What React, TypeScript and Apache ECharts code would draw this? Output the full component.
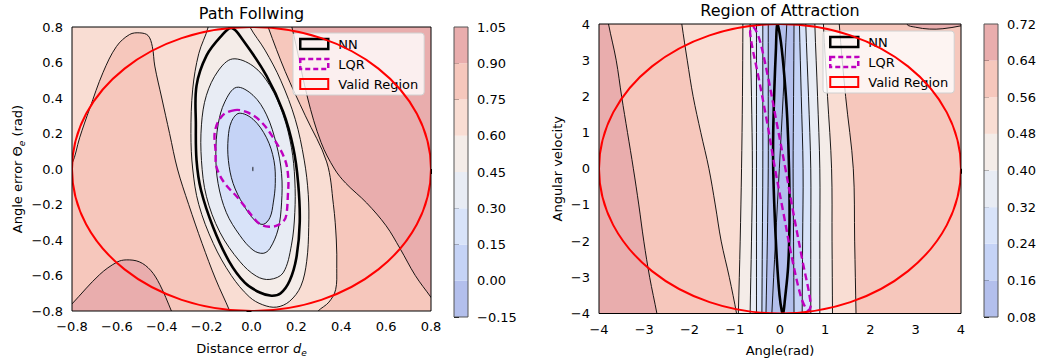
import React, { useEffect, useRef } from 'react';
import * as echarts from 'echarts';

type Pt = [number, number];

const FONT = 'DejaVu Sans';
const MINUS = '\u2212';

// filled-contour band colours (lowest band first), shared by both colourbars
const bandColors = ['#b3bfec', '#c5d3f6', '#d8e3f9', '#e8ecf4', '#f4ece8', '#f9ddd3', '#f6c7bc', '#e9adad'];

// ---------------- Path Following (left) ----------------
const pfTitle = 'Path Follwing';
const pfLevels = [-0.15, 0, 0.15, 0.3, 0.45, 0.6, 0.75, 0.9, 1.05];
const pfRange = [-0.8, 0.8];
const pfValid = [0, 0, 0.8, 0.8]; // cx, cy, rx, ry

const pfC1: Pt[] = [[-0.055, 0.314], [0.007, 0.28], [0.067, 0.176], [0.1, 0.048], [0.106, -0.081], [0.097, -0.191], [0.082, -0.274], [0.052, -0.312], [0.015, -0.29], [-0.037, -0.2], [-0.082, -0.081], [-0.103, 0.048], [-0.104, 0.176], [-0.089, 0.268]];
const pfC2: Pt[] = [[-0.067, 0.46], [0.007, 0.415], [0.067, 0.305], [0.111, 0.139], [0.134, -0.026], [0.134, -0.191], [0.119, -0.338], [0.082, -0.448], [0.052, -0.475], [0.007, -0.457], [-0.052, -0.374], [-0.112, -0.246], [-0.149, -0.081], [-0.159, 0.084], [-0.149, 0.249], [-0.119, 0.378]];
const pfC3: Pt[] = [[-0.085, 0.62], [0.007, 0.58], [0.082, 0.47], [0.141, 0.305], [0.178, 0.121], [0.193, -0.062], [0.193, -0.246], [0.178, -0.429], [0.141, -0.585], [0.082, -0.622], [0.022, -0.604], [-0.052, -0.521], [-0.141, -0.356], [-0.201, -0.154], [-0.223, 0.048], [-0.223, 0.249], [-0.201, 0.415], [-0.149, 0.552]];
const pfC5: Pt[] = [[-0.193, 0.86], [-0.193, 0.8], [-0.235, 0.65], [-0.262, 0.45], [-0.27, 0.2], [-0.262, 0.0], [-0.235, -0.2], [-0.17, -0.42], [-0.09, -0.6], [-0.01, -0.72], [0.05, -0.765], [0.112, -0.778], [0.17, -0.745], [0.22, -0.66], [0.246, -0.52], [0.255, -0.33], [0.253, -0.144], [0.235, 0.05], [0.195, 0.28], [0.13, 0.5], [0.06, 0.67], [-0.007, 0.8], [-0.02, 0.86]];
const pfC6L: Pt[] = [[-0.85, -0.05], [-0.8, 0.03], [-0.766, 0.176], [-0.721, 0.341], [-0.662, 0.543], [-0.602, 0.69], [-0.543, 0.758], [-0.498, 0.767], [-0.461, 0.752], [-0.442, 0.69], [-0.431, 0.58], [-0.4, 0.4], [-0.365, 0.2], [-0.33, 0.0], [-0.28, -0.2], [-0.22, -0.42], [-0.16, -0.62], [-0.097, -0.8], [-0.08, -0.86]];
const pfC6R: Pt[] = [[0.06, 0.86], [0.074, 0.8], [0.15, 0.55], [0.24, 0.3], [0.335, 0.04], [0.365, -0.2], [0.378, -0.4], [0.38, -0.56], [0.375, -0.68], [0.345, -0.75], [0.297, -0.8], [0.26, -0.86]];
const pfRoseTR: Pt[] = [[0.16, 0.86], [0.18, 0.8], [0.25, 0.4], [0.31, 0.15], [0.37, 0.0], [0.42, -0.08], [0.513, -0.191], [0.6, -0.32], [0.662, -0.448], [0.73, -0.6], [0.8, -0.723], [0.86, -0.83]];
const pfRoseBL: Pt[] = [[-0.86, -0.84], [-0.8, -0.76], [-0.677, -0.595], [-0.6, -0.525], [-0.558, -0.512], [-0.5, -0.523], [-0.45, -0.57], [-0.409, -0.65], [-0.357, -0.8], [-0.34, -0.86]];
const pfDot: Pt[] = [[0.006, 0.012], [0.006, -0.012]];
const pfNN: Pt[] = [[-0.089, 0.795], [-0.04, 0.73], [0.067, 0.525], [0.141, 0.323], [0.186, 0.121], [0.208, -0.081], [0.215, -0.3], [0.2, -0.5], [0.17, -0.63], [0.13, -0.7], [0.089, -0.714], [0.037, -0.696], [-0.03, -0.64], [-0.1, -0.52], [-0.171, -0.328], [-0.225, -0.12], [-0.245, 0.05], [-0.248, 0.25], [-0.245, 0.47], [-0.2, 0.64], [-0.134, 0.75]];
const pfLQR: Pt[] = [[-0.074, 0.332], [-0.13, 0.3], [-0.163, 0.213], [-0.16, 0.1], [-0.156, 0.011], [-0.12, -0.08], [-0.06, -0.163], [0.0, -0.26], [0.037, -0.31], [0.08, -0.325], [0.112, -0.319], [0.145, -0.29], [0.156, -0.254], [0.162, -0.15], [0.164, -0.053], [0.15, 0.05], [0.1, 0.17], [0.04, 0.27], [-0.02, 0.32]];

// ---------------- Region of Attraction (right) ----------------
const roaTitle = 'Region of Attraction';
const roaLevels = [0.08, 0.16, 0.24, 0.32, 0.4, 0.48, 0.56, 0.64, 0.72];
const roaRange = [-4, 4];
const roaValid = [0, 0, 4, 4];

const roaL1: Pt[] = [[-3.85, 4.5], [-3.79, 4], [-3.62, 3], [-3.5, 2], [-3.37, 1], [-3.24, 0], [-3.12, -1], [-3.01, -2], [-2.88, -3], [-2.72, -4], [-2.65, -4.5]];
const roaL2: Pt[] = [[-2.22, 4.5], [-2.17, 4], [-2.05, 3], [-1.92, 2], [-1.75, 1], [-1.57, 0], [-1.43, -1], [-1.3, -2], [-1.12, -3], [-0.96, -4], [-0.9, -4.5]];
const roaL3: Pt[] = [[-0.82, 4.5], [-0.82, 4], [-0.83, 2], [-0.85, 0], [-0.88, -2], [-0.92, -4], [-0.93, -4.5]];
const roaB4: Pt[] = [[-0.66, 4.5], [-0.66, 4], [-0.63, 2], [-0.61, 0], [-0.63, -2], [-0.66, -4], [-0.66, -4.5]];
const roaB5: Pt[] = [[-0.52, 4.5], [-0.52, 4], [-0.52, 2], [-0.52, 0], [-0.52, -2], [-0.52, -4], [-0.52, -4.5]];
const roaB6: Pt[] = [[-0.38, 4.5], [-0.38, 4], [-0.38, 2], [-0.38, 0], [-0.39, -2], [-0.4, -4], [-0.4, -4.5]];
const roaB7: Pt[] = [[-0.26, 4.5], [-0.26, 4], [-0.26, 2], [-0.26, 0], [-0.28, -2], [-0.31, -4], [-0.32, -4.5]];
const roaB8: Pt[] = [[0.31, 4.5], [0.31, 4], [0.3, 2], [0.29, 0], [0.3, -2], [0.31, -4], [0.31, -4.5]];
const roaB9: Pt[] = [[0.43, 4.5], [0.43, 4], [0.47, 2], [0.51, 0], [0.5, -2], [0.49, -4], [0.49, -4.5]];
const roaB10: Pt[] = [[0.57, 4.5], [0.57, 4], [0.63, 2], [0.68, 0], [0.68, -2], [0.68, -4], [0.68, -4.5]];
const roaB11: Pt[] = [[0.77, 4.5], [0.77, 4], [0.83, 2], [0.88, 0], [0.88, -2], [0.88, -4], [0.88, -4.5]];
const roaB12: Pt[] = [[0.96, 4.5], [0.96, 4], [1.05, 2], [1.14, 0], [1.15, -2], [1.16, -4], [1.16, -4.5]];
const roaB13: Pt[] = [[1.31, 4.5], [1.31, 4], [1.45, 2], [1.62, 0], [1.65, -2], [1.68, -4], [1.69, -4.5]];
const roaInner: Pt[] = [[0.17, 4.5], [0.15, 4], [0.07, 2], [-0.015, 0], [-0.1, -2], [-0.18, -4], [-0.2, -4.5]];
const roaArc: Pt[] = [[2.75, 4.5], [2.8, 4.0], [3.0, 3.91], [3.3, 3.86], [3.6, 3.87], [4.0, 3.95], [4.5, 4.1]];
// band index to the right of each boundary (left to right)
const roaBounds = [roaL1, roaL2, roaL3, roaB4, roaB5, roaB6, roaB7, roaB8, roaB9, roaB10, roaB11, roaB12, roaB13];
const roaRightBand = [6, 5, 4, 3, 2, 1, 0, 1, 2, 3, 4, 5, 6];
const roaNN: Pt[] = [[-0.06, 4.0], [-0.09, 3.3], [-0.125, 2.2], [-0.15, 1.0], [-0.15, 0.0], [-0.12, -1.2], [-0.07, -2.5], [-0.01, -3.5], [0.04, -3.93], [0.07, -4.0], [0.11, -3.6], [0.18, -2.7], [0.21, -1.5], [0.2, 0.0], [0.16, 1.4], [0.1, 2.5], [0.02, 3.5]];
const roaLQR: Pt[] = [[-0.6, 3.93], [-0.46, 3.6], [-0.26, 2.5], [-0.07, 1.25], [0.12, 0], [0.3, -1.25], [0.49, -2.5], [0.68, -3.75], [0.62, -3.92], [0.48, -3.6], [0.27, -2.5], [0.08, -1.25], [-0.11, 0], [-0.28, 1.25], [-0.47, 2.5], [-0.66, 3.75]];

type Fill = { pts: Pt[]; c: number; s?: number };
type Stroke = { pts: Pt[]; closed?: boolean; color?: string; width?: number; dash?: number[] };

const pfFills: Fill[] = [
  { pts: [[-1, -1], [1, -1], [1, 1], [-1, 1]], c: 6, s: 0 },
  { pts: [[-0.95, 0.95], [-0.95, -0.05], ...pfC6L, [-0.08, -0.95], [0.26, -0.95], ...pfC6R.slice().reverse(), [0.06, 0.95]], c: 5 },
  { pts: [...pfRoseTR, [0.95, -0.95], [0.95, 0.95], [0.16, 0.95]], c: 7 },
  { pts: [...pfRoseBL, [-0.34, -0.95], [-0.95, -0.95], [-0.95, -0.84]], c: 7 },
  { pts: [...pfC5, [-0.02, 0.95], [-0.193, 0.95]], c: 4 },
  { pts: pfC3, c: 3 },
  { pts: pfC2, c: 2 },
  { pts: pfC1, c: 1 },
];
const pfLines: Stroke[] = [
  { pts: pfC1, closed: true }, { pts: pfC2, closed: true }, { pts: pfC3, closed: true },
  { pts: pfC5 }, { pts: pfC6L }, { pts: pfC6R }, { pts: pfRoseTR }, { pts: pfRoseBL }, { pts: pfDot },
];

const roaFills: Fill[] = [
  { pts: [[-5, -5], [5, -5], [5, 5], [-5, 5]], c: 7, s: 0 },
  ...roaBounds.map((b, i) => ({ pts: [...b, [4.7, -4.7] as Pt, [4.7, 4.7] as Pt], c: roaRightBand[i] })),
  { pts: [...roaArc, [4.7, 4.7]], c: 7 },
];
const roaLines: Stroke[] = [...roaBounds.map((b) => ({ pts: b })), { pts: roaInner }, { pts: roaArc }];

const fmt = (d: number) => (v: number) => {
  const r = Math.round(v * 1e6) / 1e6;
  return (r < 0 ? MINUS : '') + Math.abs(r).toFixed(d);
};

function fillSeries(grid: number, fills: Fill[]) {
  return {
    type: 'custom', xAxisIndex: grid, yAxisIndex: grid, clip: true, silent: true, z: 1,
    data: fills.map((_, i) => [i, 0]),
    renderItem: (params: any, api: any) => {
      const f = fills[params.dataIndex];
      return {
        type: 'polygon',
        shape: { points: f.pts.map((p) => api.coord(p)), smooth: f.s ?? 0.35 },
        style: { fill: bandColors[f.c], stroke: null },
      };
    },
  };
}

function strokeSeries(grid: number, lines: Stroke[], z: number, name?: string) {
  return {
    type: 'custom', name, xAxisIndex: grid, yAxisIndex: grid, clip: true, silent: true, z,
    data: lines.map((_, i) => [i, 0]),
    renderItem: (params: any, api: any) => {
      const l = lines[params.dataIndex];
      return {
        type: l.closed ? 'polygon' : 'polyline',
        shape: { points: l.pts.map((p) => api.coord(p)), smooth: 0.35 },
        style: { fill: null, stroke: l.color ?? '#000', lineWidth: l.width ?? 0.9, lineDash: l.dash },
      };
    },
  };
}

function ellipseSeries(grid: number, e: number[]) {
  return {
    type: 'custom', name: 'Valid Region', xAxisIndex: grid, yAxisIndex: grid, clip: true, silent: true, z: 6,
    data: [[e[0], e[1]]],
    renderItem: (_p: any, api: any) => {
      const c = api.coord([e[0], e[1]]);
      const s = api.size([e[2], e[3]]);
      return { type: 'ellipse', shape: { cx: c[0], cy: c[1], rx: s[0], ry: s[1] }, style: { fill: null, stroke: '#ff0000', lineWidth: 2 } };
    },
  };
}

function frameSeries(grid: number, xr: number[], yr: number[], color: string) {
  return {
    type: 'custom', xAxisIndex: grid, yAxisIndex: grid, silent: true, z: 8,
    data: [[xr[0], yr[0]]],
    renderItem: (_p: any, api: any) => {
      const a = api.coord([xr[0], yr[1]]);
      const b = api.coord([xr[1], yr[0]]);
      return { type: 'rect', shape: { x: a[0], y: a[1], width: b[0] - a[0], height: b[1] - a[1] }, style: { fill: null, stroke: color, lineWidth: 1 } };
    },
  };
}

function colorbarSeries(grid: number, levels: number[]) {
  return {
    type: 'custom', xAxisIndex: grid, yAxisIndex: grid, silent: true, z: 1,
    data: levels.slice(0, -1).map((lo, i) => [lo, levels[i + 1], i]),
    renderItem: (_p: any, api: any) => {
      const lo = api.value(0), hi = api.value(1), ci = api.value(2);
      const a = api.coord([0, hi]);
      const b = api.coord([1, lo]);
      return { type: 'rect', shape: { x: a[0], y: a[1], width: b[0] - a[0], height: b[1] - a[1] }, style: { fill: bandColors[ci] } };
    },
  };
}

const richName = {
  a: { fontSize: 13, fontFamily: FONT, color: '#000', lineHeight: 18 },
  i: { fontSize: 13, fontFamily: FONT, color: '#000', fontStyle: 'italic', lineHeight: 18 },
  s: { fontSize: 9, fontFamily: FONT, color: '#000', fontStyle: 'italic', lineHeight: 10, verticalAlign: 'bottom' },
};

function valueAxis(grid: number, range: number[], interval: number, digits: number, extra: any = {}) {
  return {
    type: 'value', gridIndex: grid, min: range[0], max: range[1], interval,
    axisLine: { show: false },
    axisTick: { show: true, inside: false, length: 5, lineStyle: { color: '#000', width: 1 } },
    axisLabel: { show: true, margin: 9, color: '#000', fontSize: 13, fontFamily: FONT, formatter: fmt(digits), showMinLabel: true, showMaxLabel: true },
    splitLine: { show: false },
    nameTextStyle: { fontSize: 13, fontFamily: FONT, color: '#000', rich: richName },
    ...extra,
  };
}

const hiddenAxis = (grid: number) => ({ type: 'value', gridIndex: grid, min: 0, max: 1, show: false });

const legendData = [
  { name: 'NN', itemStyle: { color: 'rgba(255,255,255,0)', borderColor: '#000', borderWidth: 2.5 } },
  { name: 'LQR', itemStyle: { color: 'rgba(255,255,255,0)', borderColor: '#bf00bf', borderWidth: 2.5, borderType: [5, 3] } },
  { name: 'Valid Region', itemStyle: { color: 'rgba(255,255,255,0)', borderColor: '#ff0000', borderWidth: 2 } },
];
const legendBase = {
  orient: 'vertical', icon: 'rect', itemWidth: 28, itemHeight: 10, itemGap: 4,
  padding: [3, 6, 3, 6], backgroundColor: 'rgba(255,255,255,0.8)', borderColor: '#d0d0d0', borderWidth: 1, borderRadius: 3,
  textStyle: { fontSize: 13, fontFamily: FONT, color: '#000', lineHeight: 16, padding: [0, 0, 0, 5] },
  selectedMode: false,
  data: legendData,
};

function buildOption(): any {
  return {
    animation: false,
    backgroundColor: '#fff',
    title: [
      { text: pfTitle, left: 251.5, top: 3, textAlign: 'center', padding: 0, textStyle: { fontSize: 16, fontWeight: 'normal', fontFamily: FONT, color: '#000', lineHeight: 20 } },
      { text: roaTitle, left: 780, top: 0, textAlign: 'center', padding: 0, textStyle: { fontSize: 16, fontWeight: 'normal', fontFamily: FONT, color: '#000', lineHeight: 20 } },
    ],
    legend: [
      { ...legendBase, left: 293, top: 33 },
      { ...legendBase, left: 823, top: 31 },
    ],
    grid: [
      { left: 72, top: 27, width: 359, height: 290 },
      { left: 454, top: 27, width: 14, height: 290 },
      { left: 599, top: 24, width: 362, height: 293 },
      { left: 984, top: 24, width: 14, height: 293 },
    ],
    xAxis: [
      valueAxis(0, pfRange, 0.2, 1, { name: '{a|Distance error }{i|d}{s|e}', nameLocation: 'middle', nameGap: 28 }),
      hiddenAxis(1),
      valueAxis(2, roaRange, 1, 0, { name: '{a|Angle(rad)}', nameLocation: 'middle', nameGap: 28 }),
      hiddenAxis(3),
    ],
    yAxis: [
      valueAxis(0, pfRange, 0.2, 1, { name: '{a|Angle error Θ}{s|e}{a| (rad)}', nameLocation: 'middle', nameGap: 46 }),
      valueAxis(1, [pfLevels[0], pfLevels[pfLevels.length - 1]], 0.15, 2, { position: 'right', axisLabel: { margin: 9, color: '#000', fontSize: 13, fontFamily: FONT, formatter: fmt(2), showMinLabel: true, showMaxLabel: true } }),
      valueAxis(2, roaRange, 1, 0, { name: '{a|Angular velocity}', nameLocation: 'middle', nameGap: 33 }),
      valueAxis(3, [roaLevels[0], roaLevels[roaLevels.length - 1]], 0.08, 2, { position: 'right', axisLabel: { margin: 9, color: '#000', fontSize: 13, fontFamily: FONT, formatter: fmt(2), showMinLabel: true, showMaxLabel: true } }),
    ],
    series: [
      fillSeries(0, pfFills),
      strokeSeries(0, pfLines, 2),
      strokeSeries(0, [{ pts: pfNN, closed: true, width: 2.6 }], 4, 'NN'),
      strokeSeries(0, [{ pts: pfLQR, closed: true, width: 2.4, color: '#bf00bf', dash: [7, 4] }], 5, 'LQR'),
      ellipseSeries(0, pfValid),
      frameSeries(0, pfRange, pfRange, '#000'),
      colorbarSeries(1, pfLevels),
      frameSeries(1, [0, 1], [pfLevels[0], pfLevels[pfLevels.length - 1]], '#555'),

      fillSeries(2, roaFills),
      strokeSeries(2, roaLines, 2),
      strokeSeries(2, [{ pts: roaNN, closed: true, width: 2.6 }], 4, 'NN'),
      strokeSeries(2, [{ pts: roaLQR, closed: true, width: 2.4, color: '#bf00bf', dash: [7, 4] }], 5, 'LQR'),
      ellipseSeries(2, roaValid),
      frameSeries(2, roaRange, roaRange, '#000'),
      colorbarSeries(3, roaLevels),
      frameSeries(3, [0, 1], [roaLevels[0], roaLevels[roaLevels.length - 1]], '#555'),
    ],
  };
}

export default function App() {
  const ref = useRef<HTMLDivElement>(null);
  useEffect(() => {
    const chart = echarts.init(ref.current!, undefined, { renderer: 'svg' });
    chart.setOption(buildOption());
    return () => chart.dispose();
  }, []);
  return <div ref={ref} style={{ position: 'absolute', left: 0, top: 0, width: 1042, height: 362, background: '#fff' }} />;
}
